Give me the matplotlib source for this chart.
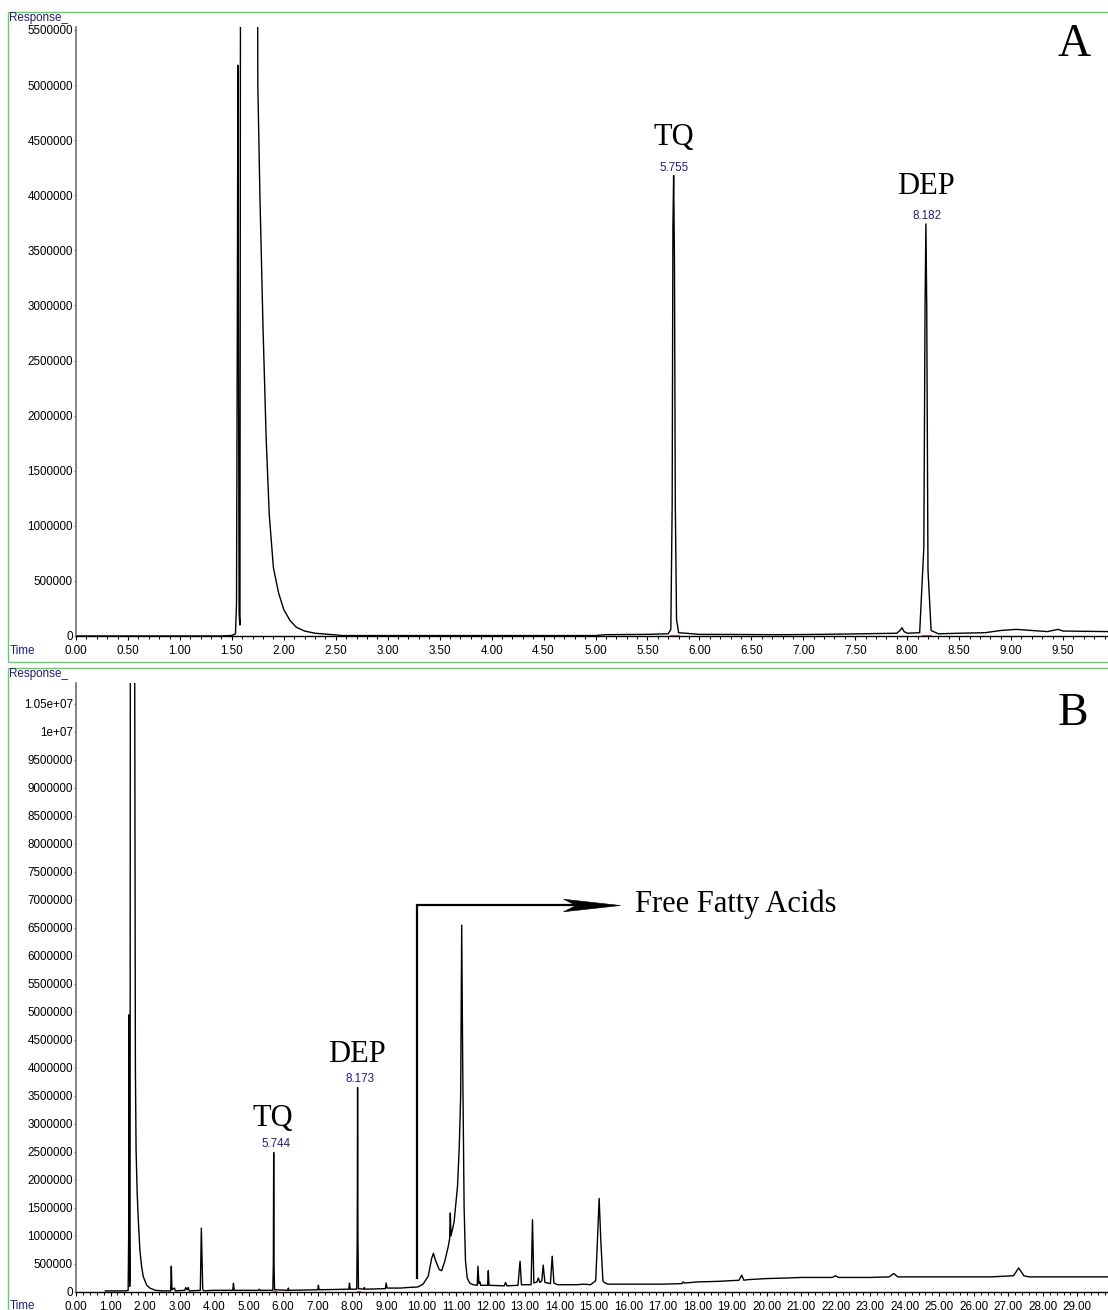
import numpy as np
import matplotlib
matplotlib.use("Agg")
import matplotlib.pyplot as plt
from matplotlib.patches import Rectangle
from matplotlib.path import Path
from matplotlib.ticker import MultipleLocator, FuncFormatter

# ---- data (time in min, response in millions of counts) ----
# panel A : standard
time_a = [0.00, 1.40, 1.50, 1.535, 1.545, 1.553, 1.558, 1.563, 1.570, 1.578,
          1.588, 1.735, 1.75, 1.77, 1.80, 1.83, 1.86, 1.90, 1.95, 2.00,
          2.06, 2.12, 2.20, 2.30, 2.50, 2.55, 5.00, 5.10, 5.50, 5.70,
          5.725, 5.738, 5.745, 5.752, 5.760, 5.768, 5.78, 5.80, 6.00, 6.80,
          7.20, 7.55, 7.90, 7.93, 7.95, 7.97, 8.00, 8.12, 8.16, 8.172,
          8.18, 8.188, 8.20, 8.23, 8.30, 8.50, 8.75, 8.90, 9.05, 9.20,
          9.35, 9.45, 9.50, 9.93]
resp_a = [0.0, 0.0, 0.005, 0.02, 0.3, 3.0, 5.18, 3.0, 0.2, 0.1,
          12.0, 12.0, 5.0, 4.0, 2.8, 1.8, 1.1, 0.62, 0.39, 0.24,
          0.14, 0.08, 0.045, 0.025, 0.010, 0.004, 0.004, 0.012, 0.015, 0.02,
          0.06, 1.2, 3.7, 4.18, 3.4, 1.2, 0.15, 0.03, 0.015, 0.012,
          0.015, 0.02, 0.025, 0.05, 0.075, 0.04, 0.025, 0.03, 0.8, 3.0,
          3.74, 3.0, 0.6, 0.05, 0.02, 0.025, 0.03, 0.05, 0.06, 0.05,
          0.04, 0.06, 0.045, 0.04]

# panel B : sample
time_b = [0.85, 1.45, 1.51, 1.525, 1.535, 1.545, 1.555, 1.565, 1.575, 1.695,
          1.72, 1.74, 1.77, 1.80, 1.85, 1.90, 1.95, 2.05, 2.14, 2.30,
          2.50, 2.74, 2.76, 2.78, 2.85, 2.88, 3.15, 3.18, 3.22, 3.25,
          3.28, 3.60, 3.63, 3.67, 3.70, 3.95, 4.30, 4.54, 4.56, 4.58,
          5.28, 5.31, 5.33, 5.70, 5.715, 5.725, 5.735, 5.75, 6.13, 6.15,
          6.17, 7.00, 7.02, 7.04, 7.90, 7.92, 7.94, 8.13, 8.145, 8.155,
          8.165, 8.18, 8.33, 8.35, 8.37, 8.96, 8.98, 9.01, 9.40, 9.60,
          9.90, 10.05, 10.20, 10.30, 10.35, 10.42, 10.52, 10.59, 10.68, 10.78,
          10.82, 10.84, 10.86, 10.95, 11.05, 11.10, 11.14, 11.17, 11.20, 11.24,
          11.28, 11.33, 11.40, 11.50, 11.62, 11.64, 11.67, 11.70, 11.72, 11.92,
          11.94, 11.96, 12.40, 12.44, 12.48, 12.80, 12.86, 12.90, 13.18, 13.22,
          13.26, 13.35, 13.39, 13.43, 13.49, 13.53, 13.58, 13.74, 13.79, 13.84,
          13.95, 14.50, 14.70, 14.90, 15.05, 15.10, 15.15, 15.20, 15.26, 15.30,
          15.40, 16.00, 17.00, 17.55, 17.58, 17.62, 18.00, 18.60, 19.20, 19.28,
          19.34, 19.45, 20.00, 20.60, 21.00, 21.90, 22.00, 22.08, 23.00, 23.55,
          23.68, 23.80, 25.00, 26.50, 27.15, 27.30, 27.45, 27.60, 29.89]
resp_b = [0.02, 0.02, 0.03, 1.0, 4.95, 1.0, 0.1, 0.3, 13.0, 13.0,
          4.0, 2.54, 1.8, 1.34, 0.75, 0.45, 0.27, 0.12, 0.07, 0.03,
          0.02, 0.02, 0.46, 0.04, 0.07, 0.02, 0.03, 0.08, 0.04, 0.08,
          0.02, 0.03, 1.14, 0.05, 0.02, 0.03, 0.03, 0.03, 0.155, 0.03,
          0.03, 0.05, 0.03, 0.03, 0.5, 2.49, 0.5, 0.04, 0.03, 0.07,
          0.03, 0.04, 0.12, 0.04, 0.05, 0.16, 0.05, 0.05, 1.0, 3.65,
          1.0, 0.06, 0.05, 0.08, 0.05, 0.06, 0.16, 0.07, 0.07, 0.08,
          0.09, 0.14, 0.28, 0.60, 0.69, 0.55, 0.40, 0.38, 0.55, 0.81,
          0.95, 1.41, 1.0, 1.25, 1.9, 2.6, 3.5, 6.55, 4.0, 1.5,
          0.55, 0.25, 0.16, 0.13, 0.12, 0.46, 0.15, 0.18, 0.12, 0.12,
          0.38, 0.12, 0.11, 0.17, 0.11, 0.12, 0.55, 0.13, 0.13, 1.29,
          0.16, 0.18, 0.25, 0.17, 0.2, 0.48, 0.17, 0.15, 0.64, 0.16,
          0.13, 0.13, 0.14, 0.13, 0.2, 0.9, 1.67, 0.9, 0.2, 0.17,
          0.14, 0.14, 0.14, 0.15, 0.18, 0.16, 0.18, 0.19, 0.21, 0.30,
          0.21, 0.22, 0.24, 0.25, 0.26, 0.26, 0.29, 0.26, 0.26, 0.27,
          0.33, 0.27, 0.27, 0.27, 0.29, 0.43, 0.29, 0.27, 0.27]

# labelled peaks: (name, retention time, apex response in millions)
peaks_a = [("TQ", 5.755, 4.18), ("DEP", 8.182, 3.74)]
peaks_b = [("TQ", 5.744, 2.49), ("DEP", 8.173, 3.65)]

NAVY = "#1e1e78"
GREEN = "#66cc66"
SANS = "Liberation Sans"
SERIF = "Liberation Serif"

W, H = 1108, 1310
fig = plt.figure(figsize=(W / 100, H / 100), dpi=100)


def px_axes(l, t, r, b):
    return fig.add_axes([l / W, 1 - b / H, (r - l) / W, (b - t) / H])


def ylab(v, pos):
    if v >= 1e7:
        return "%g" % v
    return "%d" % round(v)


def style(ax, xmax, ytop, xmaj, xmin):
    ax.set_xlim(0, xmax)
    ax.set_ylim(0, ytop)
    for s in ("top", "right"):
        ax.spines[s].set_visible(False)
    ax.spines["left"].set_color("#707070")
    ax.spines["bottom"].set_color("black")
    ax.spines["left"].set_linewidth(1.2)
    ax.spines["bottom"].set_linewidth(1.0)
    ax.xaxis.set_major_locator(MultipleLocator(xmaj))
    ax.xaxis.set_minor_locator(MultipleLocator(xmin))
    ax.xaxis.set_major_formatter(FuncFormatter(lambda v, p: "%.2f" % v))
    ax.yaxis.set_major_locator(MultipleLocator(500000))
    ax.yaxis.set_major_formatter(FuncFormatter(ylab))
    ax.tick_params(axis="x", which="major", length=3.2, width=0.8, pad=3.0,
                   labelsize=8.4, direction="out")
    ax.tick_params(axis="x", which="minor", length=2.2, width=0.7, direction="out")
    ax.tick_params(axis="y", length=1.6, width=0.7, pad=0.6, labelsize=8.4,
                   color="#707070")
    for lab in ax.get_xticklabels() + ax.get_yticklabels():
        lab.set_fontfamily(SANS)


def panel(ax, t, r, peaks, name_off, num_off):
    ax.plot(t, np.array(r) * 1e6, color="black", lw=1.0)
    for name, rt, h in peaks:
        ax.text(rt + num_off[0], h * 1e6 + num_off[1], "%.3f" % rt,
                ha="center", va="center", fontsize=8.4, color=NAVY,
                family=SANS)
        ax.text(rt + name_off[0], h * 1e6 + name_off[1], name,
                ha="center", va="center", fontsize=22, family=SERIF)
        ax.plot([rt - 0.04, rt + 0.05], [0.012e6, 0.012e6], color="#e05050",
                lw=0.8)


# ---- panel A ----
axA = px_axes(76, 27, 1108, 636)
style(axA, (1108 - 76) / 103.9, (636 - 27) / 606 * 5.5e6, 0.5, 0.1)
panel(axA, time_a, resp_a, peaks_a, (-0.005, 0.34e6), (0.005, 0.07e6))

# ---- panel B ----
axB = px_axes(76, 683, 1108, 1292)
style(axB, (1108 - 76) / 34.53, (1292 - 683) / 28 * 5e5, 1.0, 0.2)
panel(axB, time_b, resp_b, peaks_b, (-0.03, 0.6e6), (0.06, 0.16e6))

# free fatty acid bracket with a notched arrowhead
ffa_t, ffa_y, ffa_end = 9.87, 6.91e6, 15.75
axB.plot([ffa_t, ffa_t, ffa_end - 0.9], [0.25e6, ffa_y, ffa_y],
         color="black", lw=1.6, solid_joinstyle="miter")
head = Path([(0, 0), (-1, 0.11), (-0.78, 0), (-1, -0.11), (0, 0)],
            [Path.MOVETO, Path.LINETO, Path.LINETO, Path.LINETO, Path.CLOSEPOLY])
axB.plot([ffa_end], [ffa_y], marker=head, markersize=82, color="black",
         markeredgewidth=0.4, linestyle="none")
axB.text(16.19, 6.93e6, "Free Fatty Acids", ha="left", va="center",
         fontsize=22, family=SERIF)

# ---- frame decorations ----
for top, bot in ((12, 662), (668, 1320)):
    fig.patches.append(Rectangle((8 / W, 1 - bot / H), 1110 / W, (bot - top) / H,
                                 transform=fig.transFigure, fill=False,
                                 edgecolor=GREEN, lw=1.0))

for y0 in (18, 674):
    fig.text(9 / W, 1 - y0 / H, "Response_", ha="left", va="center",
             fontsize=8.4, color=NAVY, family=SANS)
for y0 in (651, 1306):
    fig.text(10 / W, 1 - y0 / H, "Time", ha="left", va="center",
             fontsize=8.4, color=NAVY, family=SANS)
fig.text(1074 / W, 1 - 45 / H, "A", ha="center", va="center", fontsize=33,
         family=SERIF)
fig.text(1073 / W, 1 - 714 / H, "B", ha="center", va="center", fontsize=33,
         family=SERIF)

fig.savefig("out.png", dpi=100)
